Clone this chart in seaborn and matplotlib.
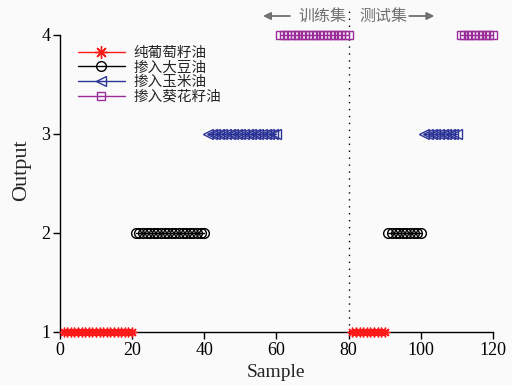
import matplotlib
matplotlib.use("Agg")
import matplotlib.pyplot as plt
import seaborn as sns
import pandas as pd

# ---- data ----
train_sample = list(range(1, 81))
train_output = ([1] * 20) + ([2] * 20) + ([3] * 20) + ([4] * 20)
test_sample = list(range(81, 121))
test_output = ([1] * 10) + ([2] * 10) + ([3] * 10) + ([4] * 10)
class_names = ["纯葡萄籽油", "掺入大豆油", "掺入玉米油", "掺入葵花籽油"]
class_values = [1, 2, 3, 4]
x_ticks = [0, 20, 40, 60, 80, 100, 120]
y_ticks = [1, 2, 3, 4]

colors = ["#ff1a1a", "#000000", "#2b3396", "#9b2d9b"]
markers = [(8, 2, 0), "o", "<", "s"]
msizes = [7, 7, 7, 6]

sns.set_theme(style="white")
plt.rcParams["font.family"] = ["Liberation Serif", "Noto Sans CJK SC"]

fig = plt.figure(figsize=(5.12, 3.85), dpi=100)
fig.patch.set_facecolor("#fafafa")
ax = fig.add_axes([0.117, 0.138, 0.846, 0.841])
ax.set_facecolor("#fafafa")

df = pd.DataFrame({
    "sample": train_sample + test_sample,
    "output": train_output + test_output,
    "seg": ["train"] * len(train_sample) + ["test"] * len(test_sample),
})

handles = []
for cname, val, c, m, ms in zip(class_names, class_values, colors, markers, msizes):
    for seg in ["train", "test"]:
        sub = df[(df["output"] == val) & (df["seg"] == seg)]
        sns.lineplot(data=sub, x="sample", y="output", ax=ax, color=c,
                     marker=m, markersize=ms, markerfacecolor="none",
                     markeredgecolor=c, markeredgewidth=1.0, linewidth=1.0,
                     clip_on=False, legend=False, zorder=3)
    h, = ax.plot([], [], color=c, marker=m, markersize=ms if val != 1 else 9,
                 markerfacecolor="none", markeredgecolor=c, lw=1.0)
    handles.append(h)

ax.axvline(80, ymin=0, ymax=1, color="black", ls=(0, (1, 4)), lw=1.0, zorder=1)

ax.set_xlim(0, 120)
ax.set_ylim(1, 4.27)
ax.set_xticks(x_ticks)
ax.set_yticks(y_ticks)
ax.tick_params(axis="both", direction="out", length=5, width=1, colors="black",
               labelsize=13, bottom=True, left=True, pad=2)
for s in ["top", "right"]:
    ax.spines[s].set_visible(False)
for s in ["left", "bottom"]:
    ax.spines[s].set_color("black")
    ax.spines[s].set_linewidth(1.0)
ax.spines["left"].set_bounds(1, 4)

ax.set_xlabel("Sample", fontsize=14, labelpad=4)
ax.set_ylabel("Output", fontsize=16, labelpad=7)

leg = ax.legend(handles, class_names, loc="upper left", bbox_to_anchor=(0.042, 0.884),
                frameon=False, handlelength=3.2, labelspacing=0.05,
                handletextpad=0.6, borderpad=0.0, borderaxespad=0.0,
                prop={"family": ["Noto Sans CJK SC"], "size": 10.5})

gray = "#707070"
ax.annotate("", xy=(55.5, 4.19), xytext=(64.5, 4.19),
            arrowprops=dict(arrowstyle="-|>", color=gray, lw=1.3, mutation_scale=11),
            annotation_clip=False)
ax.text(79.5, 4.19, "训练集", ha="right", va="center", color=gray, fontsize=11.5,
        family=["Noto Sans CJK SC"])
ax.text(83, 4.19, "测试集", ha="left", va="center", color=gray, fontsize=11.5,
        family=["Noto Sans CJK SC"])
ax.annotate("", xy=(104.5, 4.19), xytext=(96, 4.19),
            arrowprops=dict(arrowstyle="-|>", color=gray, lw=1.3, mutation_scale=11),
            annotation_clip=False)

fig.savefig("out.png", dpi=100, facecolor=fig.get_facecolor())
